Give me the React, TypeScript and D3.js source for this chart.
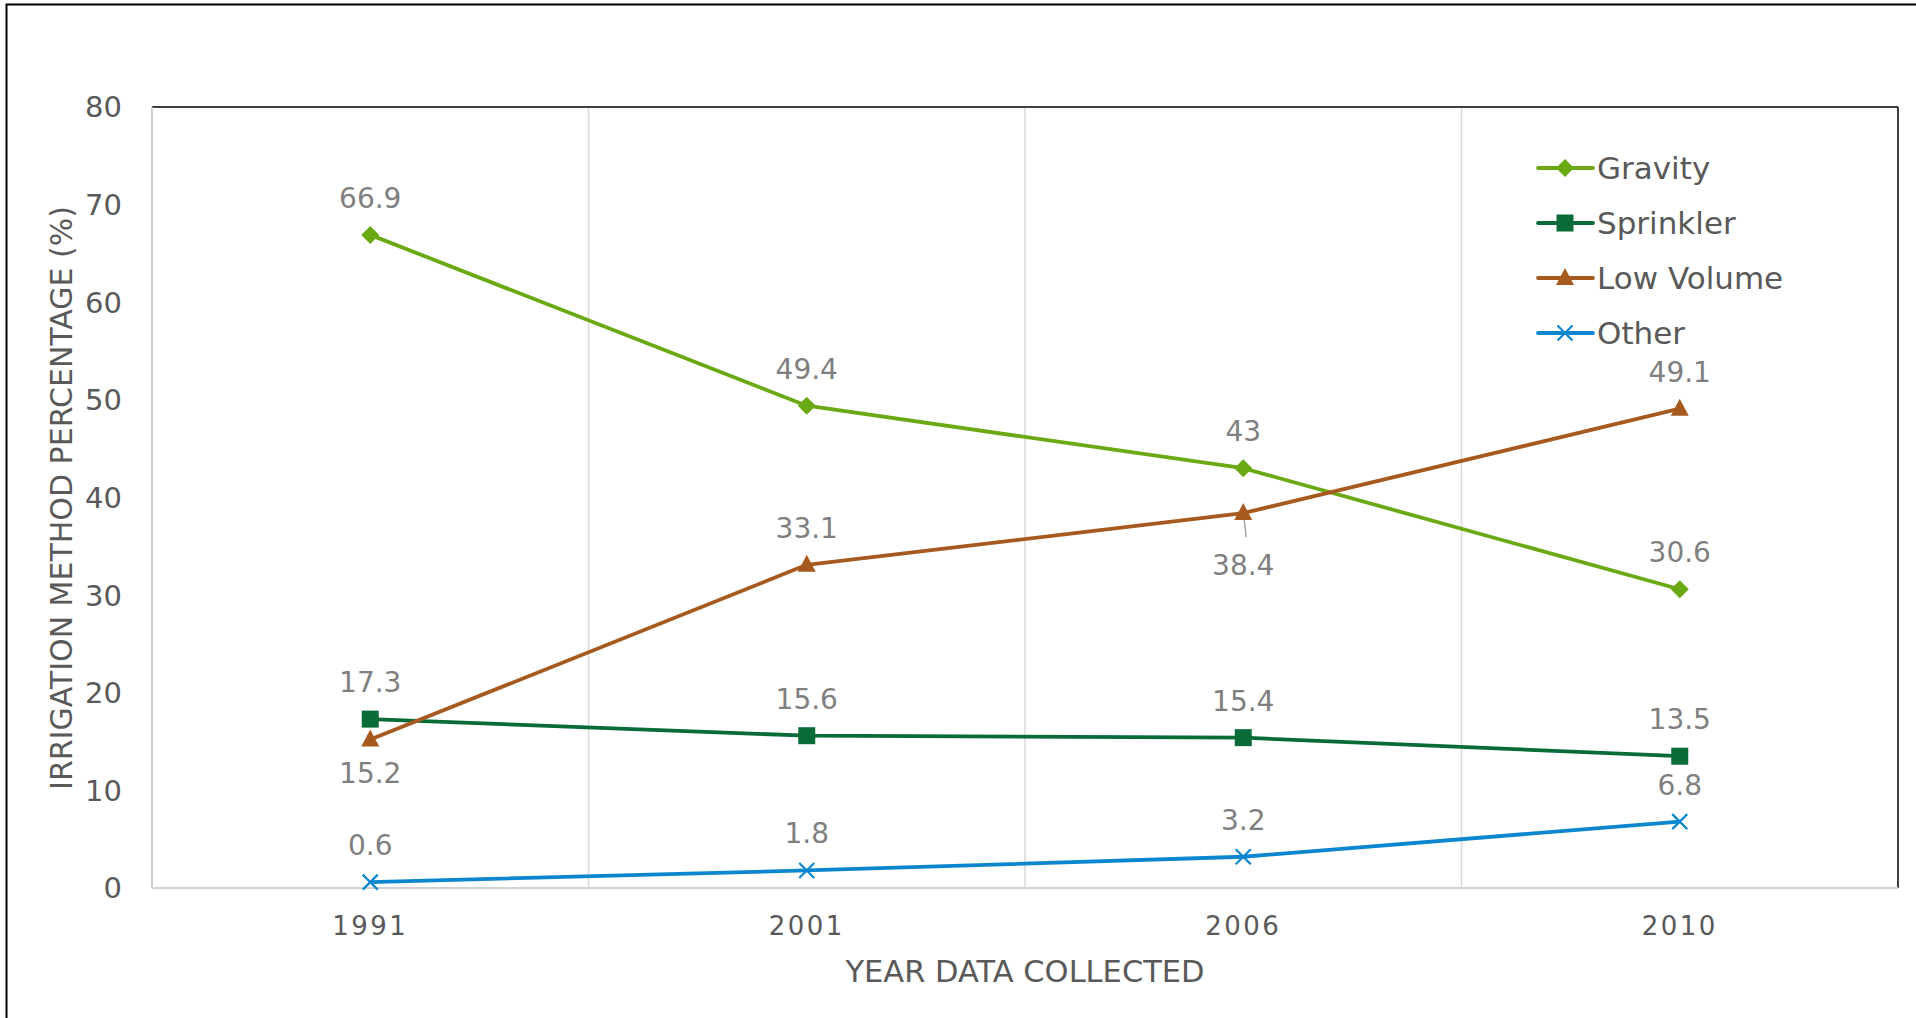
import React from "react";
import * as d3 from "d3";

// Share of irrigated area by irrigation method, per survey year
const years = ["1991", "2001", "2006", "2010"];
const seriesNames = ["Gravity", "Sprinkler", "Low Volume", "Other"];
const gravity = [66.9, 49.4, 43, 30.6];
const sprinkler = [17.3, 15.6, 15.4, 13.5];
const lowVolume = [15.2, 33.1, 38.4, 49.1];
const other = [0.6, 1.8, 3.2, 6.8];
const yTicks = [0, 10, 20, 30, 40, 50, 60, 70, 80];

const seriesValues = [gravity, sprinkler, lowVolume, other];
const seriesColors = ["#6AA913", "#086B38", "#A65A1F", "#0C87CF"];
const seriesMarkers = ["diamond", "square", "triangle", "cross"];
// where each value label sits relative to its point
const labelSide: string[][] = [
  ["above", "above", "above", "above"],
  ["above", "above", "above", "above"],
  ["below", "above", "belowLeader", "above"],
  ["above", "above", "above", "above"],
];

const W = 1916;
const H = 1018;
const FONT = "'DejaVu Sans', sans-serif";
const TEXT = "#595959";
const LABEL = "#7F7F7F";

function Marker({ kind, x, y, color }: { kind: string; x: number; y: number; color: string }) {
  if (kind === "diamond") {
    const r = 9;
    return <path d={`M${x},${y - r}L${x + r},${y}L${x},${y + r}L${x - r},${y}Z`} fill={color} />;
  }
  if (kind === "square") {
    const r = 8.5;
    return <rect x={x - r} y={y - r} width={2 * r} height={2 * r} fill={color} />;
  }
  if (kind === "triangle") {
    return <path d={`M${x},${y - 10}L${x + 9},${y + 7}L${x - 9},${y + 7}Z`} fill={color} />;
  }
  const r = 7.5;
  return (
    <path
      d={`M${x - r},${y - r}L${x + r},${y + r}M${x - r},${y + r}L${x + r},${y - r}`}
      stroke={color}
      strokeWidth={2.2}
      fill="none"
    />
  );
}

export default function App() {
  const left = 152, right = 1898, top = 107, bottom = 888;
  const x = d3.scaleBand<string>().domain(years).range([left, right]).padding(0);
  const y = d3.scaleLinear().domain([0, 80]).range([bottom, top]);
  const cx = (yr: string) => (x(yr) as number) + x.bandwidth() / 2;
  const line = d3
    .line<number>()
    .x((_, i) => cx(years[i]))
    .y((v) => y(v));

  return (
    <svg
      width={W}
      height={H}
      style={{ position: "absolute", left: 0, top: 0, background: "#fff" }}
      fontFamily={FONT}
    >
      <rect x={0} y={0} width={W} height={H} fill="#fff" />
      {/* outer frame */}
      <rect x={6.5} y={4.5} width={W + 20} height={H + 20} fill="none" stroke="#000" strokeWidth={2} />

      {/* vertical separators between categories */}
      {years.slice(1).map((yr) => (
        <line key={yr} x1={x(yr)} x2={x(yr)} y1={top} y2={bottom} stroke="#D9D9D9" strokeWidth={1.5} />
      ))}

      {/* plot frame */}
      <line x1={left} x2={right} y1={top} y2={top} stroke="#000" strokeWidth={1.5} />
      <line x1={right} x2={right} y1={top} y2={bottom} stroke="#000" strokeWidth={1.5} />
      <line x1={left} x2={left} y1={top} y2={bottom} stroke="#BFBFBF" strokeWidth={1.5} />
      <line x1={left} x2={right} y1={bottom} y2={bottom} stroke="#D0D0D0" strokeWidth={2} />

      {/* y ticks */}
      {yTicks.map((t) => (
        <text key={t} x={122} y={y(t)} dy="0.36em" textAnchor="end" fontSize={29} fill={TEXT}>
          {t}
        </text>
      ))}

      {/* x ticks */}
      {years.map((yr) => (
        <text key={yr} x={cx(yr)} y={935} textAnchor="middle" fontSize={26} letterSpacing={2.5} fill={TEXT}>
          {yr}
        </text>
      ))}

      {/* axis titles */}
      <text x={(left + right) / 2} y={982} textAnchor="middle" fontSize={30.5} fill={TEXT}>
        YEAR DATA COLLECTED
      </text>
      <text
        transform={`translate(61,498) rotate(-90)`}
        textAnchor="middle"
        dy="0.36em"
        fontSize={30}
        fill={TEXT}
      >
        IRRIGATION METHOD PERCENTAGE (%)
      </text>

      {/* series */}
      {seriesValues.map((vals, s) => (
        <g key={seriesNames[s]}>
          <path d={line(vals) as string} fill="none" stroke={seriesColors[s]} strokeWidth={3.8} strokeLinejoin="round" />
          {vals.map((v, i) => (
            <Marker key={i} kind={seriesMarkers[s]} x={cx(years[i])} y={y(v)} color={seriesColors[s]} />
          ))}
        </g>
      ))}

      {/* value labels */}
      {seriesValues.map((vals, s) =>
        vals.map((v, i) => {
          const px = cx(years[i]);
          const py = y(v);
          const side = labelSide[s][i];
          const ly = side === "above" ? py - 27 : side === "below" ? py + 43 : py + 62;
          return (
            <g key={`${s}-${i}`}>
              {side === "belowLeader" && (
                <line x1={px + 1} y1={py + 7} x2={px + 3} y2={py + 24} stroke="#A6A6A6" strokeWidth={1.5} />
              )}
              <text x={px} y={ly} textAnchor="middle" fontSize={28} fill={LABEL}>
                {v}
              </text>
            </g>
          );
        })
      )}

      {/* legend */}
      {seriesNames.map((name, s) => {
        const ry = 168 + s * 55;
        return (
          <g key={name}>
            <line x1={1538} x2={1593} y1={ry} y2={ry} stroke={seriesColors[s]} strokeWidth={3.8} strokeLinecap="round" />
            <Marker kind={seriesMarkers[s]} x={1565} y={ry} color={seriesColors[s]} />
            <text x={1597} y={ry} dy="0.36em" fontSize={31} fill={TEXT}>
              {name}
            </text>
          </g>
        );
      })}
    </svg>
  );
}
